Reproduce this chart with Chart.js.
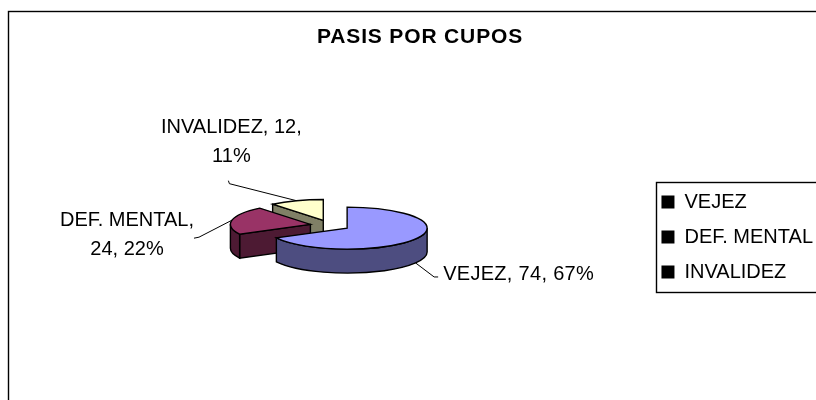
<!DOCTYPE html>
<html>
<head>
<meta charset="utf-8">
<style>html,body{margin:0;padding:0;background:#fff;overflow:hidden}#w{position:absolute;left:0;top:0;width:816px;height:400px}</style>
<script src="https://cdn.jsdelivr.net/npm/chart.js@4"></script>
</head>
<body>
<div id="w"><canvas id="c" width="816" height="400"></canvas></div>
<script>
const categories = ['VEJEZ', 'DEF. MENTAL', 'INVALIDEZ'];
const values = [74, 24, 12];
const percents = [67, 22, 11];
const topColors = ['#9999FF', '#993366', '#FFFFCC'];
const wallColors = ['#4D4D80', '#4D1A33', '#808066'];
const chartTitle = 'PASIS POR CUPOS';

const FONT = '"Liberation Sans", Arial, sans-serif';
const LABEL_SIZE = 20;
const TILT = 0.2625, DEPTH = 24, CX = 330, CY = 225.4, EXPLODE = 20, EDGE = 1.4;
// label layout per slice, relative to the slice's rim anchor
const labelLayout = [
  {lines: i => [`${categories[i]}, ${values[i]}, ${percents[i]}%`], leader: [[18.5, 14], [22.5, 14]], text: [27.5, 12], align: 'left', lh: 29, ls: '0.3px'},
  {lines: i => [`${categories[i]},`, `${values[i]}, ${percents[i]}%`], leader: [[-33, 17], [-38, 18]], text: [-105, 0], align: 'center', lh: 29, ls: '0px'},
  {lines: i => [`${categories[i]}, ${values[i]},`, `${percents[i]}%`], leader: [[-67, -17], [-68, -20]], text: [-65, -73], align: 'center', lh: 29, ls: '0px'}
];

function geom(arc) {
  const p = arc.getProps(['x', 'y', 'startAngle', 'endAngle', 'outerRadius']);
  const mid = (p.startAngle + p.endAngle) / 2;
  return {
    x: CX + Math.cos(mid) * EXPLODE,
    y: CY + Math.sin(mid) * EXPLODE * TILT,
    cx: Math.cos(mid) * EXPLODE, cy: Math.sin(mid) * EXPLODE,
    a0: p.startAngle, a1: p.endAngle, r: p.outerRadius, mid
  };
}
function face(ctx, color) {
  ctx.fillStyle = color; ctx.fill(); ctx.strokeStyle = '#000'; ctx.lineWidth = EDGE; ctx.stroke();
}
function drawWalls(ctx, g, color) {
  const rx = g.r, ry = g.r * TILT;
  const pt = a => [g.x + Math.cos(a) * rx, g.y + Math.sin(a) * ry];
  [[g.a0, Math.sin(g.a0 - Math.PI / 2)], [g.a1, Math.sin(g.a1 + Math.PI / 2)]].forEach(([a, n]) => {
    if (n > 0.001) {
      const [px, py] = pt(a);
      ctx.beginPath();
      ctx.moveTo(g.x, g.y); ctx.lineTo(px, py); ctx.lineTo(px, py + DEPTH); ctx.lineTo(g.x, g.y + DEPTH);
      ctx.closePath(); face(ctx, color);
    }
  });
  const from = Math.max(g.a0, 0), to = Math.min(g.a1, Math.PI);
  if (to > from) {
    ctx.beginPath();
    ctx.ellipse(g.x, g.y, rx, ry, 0, from, to);
    ctx.ellipse(g.x, g.y + DEPTH, rx, ry, 0, to, from, true);
    ctx.closePath(); face(ctx, color);
  }
}
const pie3d = {
  id: 'pie3d',
  afterLayout(chart) {
    chart.legend.left += 7; chart.legend.right += 7;
    const tb = chart.titleBlock;
    if (tb && !tb._spaced) {
      const orig = tb.draw;
      tb.draw = function () {
        chart.ctx.letterSpacing = '0.85px';
        orig.apply(this, arguments);
        chart.ctx.letterSpacing = '0px';
      };
      tb._spaced = true;
    }
  },
  beforeDraw(chart) {
    const ctx = chart.ctx;
    ctx.save();
    ctx.fillStyle = '#fff'; ctx.fillRect(0, 0, 816, 400);
    ctx.strokeStyle = '#000'; ctx.lineWidth = 1.4;
    ctx.strokeRect(8.5, 11.5, 900, 500);
    ctx.strokeRect(656.5, 182.5, 300, 110);
    ctx.restore();
  },
  beforeDatasetDraw(chart, args) {
    const ctx = chart.ctx;
    const arcs = chart.getDatasetMeta(args.index).data;
    for (let i = arcs.length - 1; i >= 0; i--) {
      const arc = arcs[i], g = geom(arc);
      ctx.save();
      drawWalls(ctx, g, wallColors[i]);
      ctx.save();
      ctx.translate(CX, CY); ctx.scale(1, TILT); ctx.translate(g.cx - arc.x, g.cy - arc.y);
      arc.draw(ctx);
      ctx.restore();
      ctx.beginPath();
      ctx.moveTo(g.x, g.y);
      ctx.ellipse(g.x, g.y, g.r, g.r * TILT, 0, g.a0, g.a1);
      ctx.closePath();
      ctx.strokeStyle = '#000'; ctx.lineWidth = EDGE; ctx.stroke();
      ctx.restore();
    }
    return false;
  },
  afterDatasetsDraw(chart) {
    const ctx = chart.ctx;
    chart.getDatasetMeta(0).data.forEach((arc, i) => {
      const g = geom(arc), l = labelLayout[i];
      const ax = g.x + Math.cos(g.mid) * g.r;
      const sinm = Math.sin(g.mid);
      const ay = g.y + sinm * g.r * TILT + (sinm > 0 ? DEPTH : 0);
      ctx.save();
      ctx.strokeStyle = '#000'; ctx.lineWidth = 1;
      ctx.beginPath(); ctx.moveTo(ax, ay);
      l.leader.forEach(([dx, dy]) => ctx.lineTo(ax + dx, ay + dy));
      ctx.stroke();
      ctx.fillStyle = '#000';
      ctx.font = `${LABEL_SIZE}px ${FONT}`;
      ctx.letterSpacing = l.ls;
      ctx.textAlign = l.align; ctx.textBaseline = 'middle';
      l.lines(i).forEach((t, n) => ctx.fillText(t, ax + l.text[0], ay + l.text[1] + n * l.lh));
      ctx.restore();
    });
  }
};
new Chart(document.getElementById('c'), {
  type: 'pie',
  data: {
    labels: categories,
    datasets: [{data: values, backgroundColor: topColors, borderWidth: 0, hoverOffset: 0, clip: false}]
  },
  plugins: [pie3d],
  options: {
    responsive: false,
    animation: false,
    radius: 80,
    layout: {padding: {left: 24}},
    plugins: {
      tooltip: {enabled: false},
      title: {
        display: true, text: chartTitle, color: '#000',
        font: {family: FONT, size: 21, weight: 'bold'},
        padding: {top: 25, bottom: 24}
      },
      legend: {
        position: 'right',
        fullSize: false,
        labels: {
          color: '#000', boxWidth: 13, boxHeight: 13, padding: 15,
          font: {family: FONT, size: LABEL_SIZE},
          generateLabels: () => categories.map((t, i) => ({text: t, fillStyle: '#000', strokeStyle: '#000', lineWidth: 0, index: i}))
        }
      }
    }
  }
});
</script>
</body>
</html>
